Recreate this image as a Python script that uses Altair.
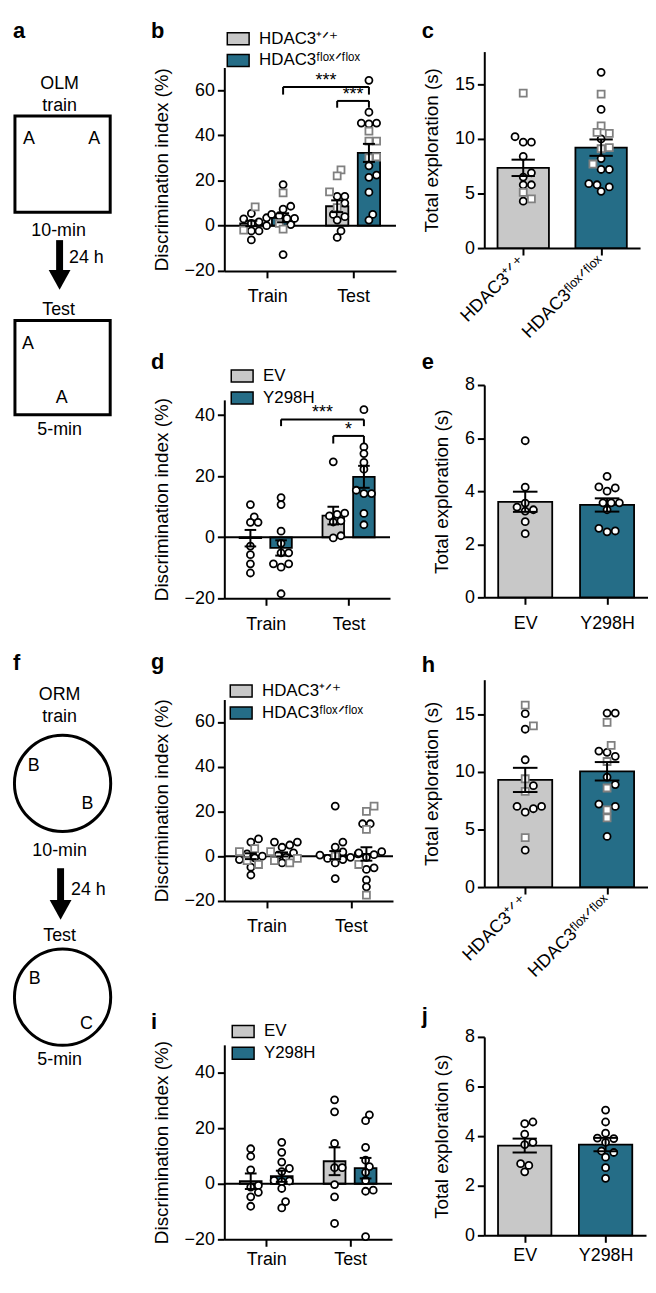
import altair as alt
import pandas as pd

FONT = "Liberation Sans"
GRAY = "#c8c8c8"
TEAL = "#256d87"
SQGRAY = "#808080"

HDAC = ["HDAC3⁺ᐟ⁺", "HDAC3ᶠˡᵒˣᐟᶠˡᵒˣ"]
MUT = ["EV", "Y298H"]

# ---------- panel b (OLM, HDAC3) : groups Train+/+, Train f/f, Test+/+, Test f/f
b_means = [1.0, 3.5, 8.6, 32.2]
b_sems = [1.2, 2.0, 2.6, 4.0]
b_circles = [
    [5.4, 3.5, 3.0, 1.7, 1.0, 0.0, -2.3, -2.3, -6.3],
    [18.2, 8.6, 7.3, 5.0, 4.4, 3.2, 3.2, 0.5, -12.8],
    [13.0, 13.0, 10.0, 5.0, 4.0, 2.5, -2.3, -5.2],
    [64.3, 50.2, 45.4, 45.4, 45.0, 26.5, 22.4, 21.4, 14.8, 5.0, 2.5],
]
b_squares = [
    [8.3, -2.0],
    [14.5, 1.0, -1.5],
    [24.7, 22.0, 15.0, 8.0],
    [41.8, 37.4, 37.4, 30.4, 30.0],
]
b_brackets = [(1, 3, 61.4, 3.4, "***"), (2, 3, 55.2, 3.0, "***")]

# ---------- panel c (OLM total exploration, HDAC3)
c_means = [7.35, 9.2]
c_sems = [0.75, 0.75]
c_circles = [
    [10.2, 9.7, 9.7, 8.4, 6.9, 6.5, 5.8, 5.8, 4.3],
    [16.1, 12.7, 10.0, 8.2, 7.2, 7.2, 5.8, 5.2, 5.6, 5.9],
]
c_squares = [
    [14.2, 5.1, 4.5],
    [14.1, 11.2, 10.5, 10.6, 9.2, 9.1, 7.7],
]

# ---------- panel d (OLM, EV / Y298H)
d_means = [-0.3, -3.5, 7.1, 19.8]
d_sems = [2.7, 2.5, 2.9, 3.6]
d_circles = [
    [10.7, 6.7, 4.9, 4.9, -2.9, -5.7, -8.7, -11.7],
    [13.0, 10.7, 2.0, -2.0, -5.1, -5.1, -8.7, -9.8, -8.7, -18.5],
    [24.7, 7.5, 7.0, 7.9, 5.0, 5.4, 0.5, -0.2],
    [41.8, 29.6, 27.4, 24.5, 22.3, 15.4, 14.3, 14.3, 7.8, 4.1],
]
d_squares = [[], [], [], []]
d_brackets = [(1, 3, 38.6, 2.2, "***"), (2, 3, 33.2, 2.5, "*")]

# ---------- panel e
e_means = [3.6, 3.48]
e_sems = [0.38, 0.25]
e_circles = [
    [5.9, 4.15, 3.55, 3.4, 3.3, 3.25, 2.85, 2.4],
    [4.56, 4.16, 4.0, 4.12, 3.56, 3.56, 3.56, 3.3, 2.6, 2.47, 2.5],
]
e_squares = [[], []]

# ---------- panel g (ORM, HDAC3)
g_means = [0.0, 0.8, 0.5, 1.0]
g_sems = [1.3, 0.9, 1.8, 3.0]
g_circles = [
    [7.7, 6.3, 1.0, 0.0, -0.7, -1.5, -4.9, -8.4],
    [6.3, 6.3, 5.0, 4.0, 1.5, 0.5, -0.5, -3.0],
    [22.4, 6.3, 4.1, 1.9, 1.0, 0.5, -0.5, -1.0, -1.5, -3.0, -10.0],
    [14.5, 14.5, 2.0, 1.5, 0.7, -0.5, -5.2, -5.9, -10.6, -13.7],
]
g_squares = [
    [3.4, 2.0, -2.0, -3.7],
    [2.0, -1.0, -2.0, -3.0],
    [0.0],
    [22.4, 20.0, 12.0, -3.7, -17.4],
]

# ---------- panel h
h_means = [9.3, 10.05]
h_sems = [1.05, 0.8]
h_circles = [
    [15.05, 13.7, 11.05, 8.8, 7.0, 6.8, 6.5, 7.0, 3.2],
    [15.1, 15.1, 11.7, 11.8, 11.35, 9.55, 8.9, 7.2, 7.0, 4.4],
]
h_squares = [
    [15.8, 14.0, 9.4, 8.3, 4.3],
    [14.3, 12.3, 10.9, 8.6, 6.7, 6.0],
]

# ---------- panel i (ORM, EV / Y298H)
i_means = [0.9, 2.7, 8.1, 5.6]
i_sems = [2.8, 2.0, 5.0, 3.7]
i_circles = [
    [12.6, 9.9, 5.0, -0.6, -1.2, -3.1, -4.7, -8.1],
    [14.9, 11.3, 7.8, 5.5, 4.4, 1.2, 1.0, 0.8, -1.7, -6.4, -8.7],
    [30.2, 25.9, 14.5, 5.8, 5.8, -0.3, -4.7, -14.3],
    [24.8, 22.7, 13.1, 8.5, 6.2, 4.1, 1.2, -2.3, -2.7, -19.0],
]
i_squares = [[], [], [], []]

# ---------- panel j
j_means = [3.62, 3.66]
j_sems = [0.28, 0.27]
j_circles = [
    [4.57, 4.5, 4.08, 3.75, 3.66, 2.89, 2.56, 2.82],
    [5.05, 4.57, 4.12, 3.92, 3.9, 3.75, 3.4, 3.34, 3.15, 2.73, 2.3],
]
j_squares = [[], []]

# ---------- schematic (a, f) text labels and shapes, in page pixels
sch_text = ["OLM", "train", "A", "A", "10-min", "24 h", "Test", "A", "A", "5-min",
            "ORM", "train", "B", "B", "10-min", "24 h", "Test", "B", "C", "5-min"]
sch_tx = [55, 55, 24, 90, 54, 82, 54, 23, 57, 55,
          55, 55, 29, 83, 55, 84, 55, 30, 82, 55]
sch_ty = [85, 107, 140, 140, 233, 260, 312, 347, 401, 433,
          700, 723, 772, 810, 858, 897, 943, 987, 1032, 1068]
sch_letters = ["a", "f"]
sch_lx = [8, 8]
sch_ly = [33, 670]
sch_boxes = [(10, 112, 106, 209), (10, 318, 106, 413)]
sch_circles = [(58, 784.5), (58, 1000)]
sch_shafts = [(55, 237, 270), (56, 870, 905)]
sch_heads = [(55, 277), (56, 912)]

ZERO = pd.DataFrame({"z": [0.0]})


def swarm(values, ppx, ppy, diam):
    order = sorted(range(len(values)), key=lambda k: values[k])
    placed = []
    offs = [0.0] * len(values)
    step = diam * 0.55
    cands = [0.0]
    for k in range(1, 14):
        cands += [k * step, -k * step]
    for idx in order:
        yp = values[idx] * ppy
        chosen = cands[-1]
        for c in cands:
            if all((c - px) ** 2 + (yp - py) ** 2 >= (diam * 0.95) ** 2 for px, py in placed):
                chosen = c
                break
        placed.append((chosen, yp))
        offs[idx] = chosen / ppx
    return offs


def points_df(centers, circles, squares, ppx, ppy, diam):
    rows = []
    for xc, circ, sq in zip(centers, circles, squares):
        vals = list(circ) + list(sq)
        kinds = ["c"] * len(circ) + ["s"] * len(sq)
        offs = swarm(vals, ppx, ppy, diam)
        for o, v, k in zip(offs, vals, kinds):
            rows.append({"x": xc + o, "v": v, "k": k})
    return pd.DataFrame(rows)


def letter_layer(letter, dx, dy):
    return alt.Chart(ZERO).mark_text(
        text=letter, font=FONT, fontSize=22, fontWeight="bold",
        align="left", baseline="alphabetic", color="black"
    ).encode(x=alt.value(dx), y=alt.value(dy))


def common_layers(xs, ys, xax, yax, centers, genos, labels, means, sems,
                  circles, squares, width, height, ydom, hb, cap, legend, diam):
    bars = pd.DataFrame({
        "g": genos,
        "x1": [c - hb for c in centers],
        "x2": [c + hb for c in centers],
        "m": means,
        "z": [0.0] * len(centers),
    })
    err = pd.DataFrame({
        "xc": centers,
        "lo": [m - s for m, s in zip(means, sems)],
        "hi": [m + s for m, s in zip(means, sems)],
        "c1": [c - cap for c in centers],
        "c2": [c + cap for c in centers],
    })
    ppx = width / 2.0
    ppy = height / float(ydom[1] - ydom[0])
    pts = points_df(centers, circles, squares, ppx, ppy, diam)

    bar_layer = alt.Chart(bars).mark_rect(stroke="black", strokeWidth=1.8).encode(
        x=alt.X("x1:Q", scale=xs, axis=xax),
        x2="x2:Q",
        y=alt.Y("m:Q", scale=ys, axis=yax),
        y2="z:Q",
        fill=alt.Fill("g:N", scale=alt.Scale(domain=labels, range=[GRAY, TEAL]),
                      legend=legend),
    )
    pt_layer = alt.Chart(pts).mark_point(
        filled=True, fill="white", size=50, strokeWidth=1.8, opacity=1
    ).encode(
        x=alt.X("x:Q", scale=xs, axis=xax),
        y=alt.Y("v:Q", scale=ys, axis=yax),
        shape=alt.Shape("k:N", scale=alt.Scale(domain=["c", "s"], range=["circle", "square"]), legend=None),
        stroke=alt.Stroke("k:N", scale=alt.Scale(domain=["c", "s"], range=["black", SQGRAY]), legend=None),
    )
    err_v = alt.Chart(err).mark_rule(color="black", strokeWidth=2).encode(
        x=alt.X("xc:Q", scale=xs, axis=xax),
        y=alt.Y("lo:Q", scale=ys, axis=yax),
        y2="hi:Q",
    )
    err_hi = alt.Chart(err).mark_rule(color="black", strokeWidth=2).encode(
        x=alt.X("c1:Q", scale=xs, axis=xax), x2="c2:Q",
        y=alt.Y("hi:Q", scale=ys, axis=yax),
    )
    err_lo = alt.Chart(err).mark_rule(color="black", strokeWidth=2).encode(
        x=alt.X("c1:Q", scale=xs, axis=xax), x2="c2:Q",
        y=alt.Y("lo:Q", scale=ys, axis=yax),
    )
    return [bar_layer, pt_layer, err_v, err_hi, err_lo]


def disc_panel(letter, ldy, labels, means, sems, circles, squares, brackets,
               ydom, yticks, width, height, legx, legy, lpad):
    off, hb, cap = 0.185, 0.13, 0.07
    centers = [1 - off, 1 + off, 2 - off, 2 + off]
    genos = [labels[0], labels[1], labels[0], labels[1]]
    xs = alt.Scale(domain=[0.5, 2.5], nice=False, zero=False)
    ys = alt.Scale(domain=ydom, nice=False, zero=False)
    xax = alt.Axis(values=[1, 2], labelExpr="datum.value == 1 ? 'Train' : 'Test'",
                   title=None, grid=False, labelPadding=lpad)
    yax = alt.Axis(values=yticks, title="Discrimination index (%)", grid=False,
                   titlePadding=13, labelPadding=3)
    legend = alt.Legend(
        orient="none", legendX=legx, legendY=legy, title=None, direction="vertical",
        symbolType="M-1,-0.55L1,-0.55L1,0.55L-1,0.55Z", symbolSize=484,
        symbolStrokeColor="black", symbolStrokeWidth=1.5, symbolOpacity=1,
        labelFont=FONT, labelFontSize=17, labelColor="black", labelOffset=9,
        rowPadding=0, padding=0, labelLimit=300,
    )
    layers = common_layers(xs, ys, xax, yax, centers, genos, labels, means, sems,
                           circles, squares, width, height, ydom, hb, cap, legend, 7.0)
    zero_rule = alt.Chart(ZERO).mark_rule(color="black", strokeWidth=2).encode(
        y=alt.Y("z:Q", scale=ys, axis=yax))
    seg_rows, txt_rows = [], []
    for ga, gb, yl, drop, lab in brackets:
        xa, xb = centers[ga], centers[gb]
        seg_rows += [
            {"xa": xa, "xb": xb, "ya": yl, "yb": yl},
            {"xa": xa, "xb": xa, "ya": yl, "yb": yl - drop},
            {"xa": xb, "xb": xb, "ya": yl, "yb": yl - drop},
        ]
        txt_rows.append({"xm": (xa + xb) / 2.0, "y": yl, "s": lab})
    extra = []
    if seg_rows:
        extra.append(alt.Chart(pd.DataFrame(seg_rows)).mark_rule(color="black", strokeWidth=2).encode(
            x=alt.X("xa:Q", scale=xs, axis=xax), x2="xb:Q",
            y=alt.Y("ya:Q", scale=ys, axis=yax), y2="yb:Q"))
        extra.append(alt.Chart(pd.DataFrame(txt_rows)).mark_text(
            font=FONT, fontSize=18, baseline="alphabetic", dy=-1, color="black").encode(
            x=alt.X("xm:Q", scale=xs, axis=xax),
            y=alt.Y("y:Q", scale=ys, axis=yax), text="s:N"))
    lays = [layers[0], zero_rule, layers[1], layers[2], layers[3], layers[4]] + extra
    lays.append(letter_layer(letter, -74, ldy))
    return alt.layer(*lays).properties(width=width, height=height)


def expl_panel(letter, ldy, labels, means, sems, circles, squares, ydom, yticks,
               width, height, rotate, lpad):
    hb, cap = 0.33, 0.15
    centers = [1.0, 2.0]
    xs = alt.Scale(domain=[0.5, 2.5], nice=False, zero=False)
    ys = alt.Scale(domain=ydom, nice=False, zero=False)
    expr = "datum.value == 1 ? '%s' : '%s'" % (labels[0], labels[1])
    if rotate:
        xax = alt.Axis(values=[1, 2], labelExpr=expr, title=None, grid=False,
                       labelAngle=-45, labelAlign="right", labelBaseline="middle",
                       labelPadding=4, labelLimit=300)
    else:
        xax = alt.Axis(values=[1, 2], labelExpr=expr, title=None, grid=False, labelPadding=lpad)
    yax = alt.Axis(values=yticks, title="Total exploration (s)", grid=False,
                   titlePadding=13, labelPadding=3)
    layers = common_layers(xs, ys, xax, yax, centers, labels, labels, means, sems,
                           circles, squares, width, height, ydom, hb, cap, None, 7.5)
    layers.append(letter_layer(letter, -63, ldy))
    return alt.layer(*layers).properties(width=width, height=height)


def spacer(h, w):
    return alt.Chart(ZERO).mark_point(size=1, opacity=0).encode(
        x=alt.value(1), y=alt.value(1)).properties(width=w, height=h)


# ---------- schematic column
SW, SH = 114, 1080
sxs = alt.Scale(domain=[8, 8 + SW], nice=False, zero=False)
sys_ = alt.Scale(domain=[8, 8 + SH], nice=False, zero=False, reverse=True)
txt_df = pd.DataFrame({"t": sch_text, "x": sch_tx, "y": sch_ty})
let_df = pd.DataFrame({"t": sch_letters, "x": sch_lx, "y": sch_ly})
box_df = pd.DataFrame(sch_boxes, columns=["x1", "y1", "x2", "y2"])
circ_df = pd.DataFrame(sch_circles, columns=["x", "y"])
shaft_df = pd.DataFrame(sch_shafts, columns=["x", "y1", "y2"])
head_df = pd.DataFrame(sch_heads, columns=["x", "y"])

schem = alt.layer(
    alt.Chart(box_df).mark_rect(filled=False, color="black", strokeWidth=3).encode(
        x=alt.X("x1:Q", scale=sxs, axis=None), x2="x2:Q",
        y=alt.Y("y1:Q", scale=sys_, axis=None), y2="y2:Q"),
    alt.Chart(circ_df).mark_point(shape="circle", filled=False, color="black",
                                  strokeWidth=3, size=9409, opacity=1).encode(
        x=alt.X("x:Q", scale=sxs, axis=None), y=alt.Y("y:Q", scale=sys_, axis=None)),
    alt.Chart(shaft_df).mark_rule(color="black", strokeWidth=7).encode(
        x=alt.X("x:Q", scale=sxs, axis=None),
        y=alt.Y("y1:Q", scale=sys_, axis=None), y2="y2:Q"),
    alt.Chart(head_df).mark_point(shape="M-1,-0.9L1,-0.9L0,0.9Z", filled=True,
                                  color="black", size=484, opacity=1).encode(
        x=alt.X("x:Q", scale=sxs, axis=None), y=alt.Y("y:Q", scale=sys_, axis=None)),
    alt.Chart(txt_df).mark_text(font=FONT, fontSize=18, baseline="alphabetic",
                                align="center", color="black").encode(
        x=alt.X("x:Q", scale=sxs, axis=None), y=alt.Y("y:Q", scale=sys_, axis=None),
        text="t:N"),
    alt.Chart(let_df).mark_text(font=FONT, fontSize=22, fontWeight="bold",
                                baseline="alphabetic", align="left", color="black").encode(
        x=alt.X("x:Q", scale=sxs, axis=None), y=alt.Y("y:Q", scale=sys_, axis=None),
        text="t:N"),
).properties(width=SW, height=SH)

# ---------- panels
MW, RW = 173, 165
pb = disc_panel("b", -30, HDAC, b_means, b_sems, b_circles, b_squares, b_brackets,
                [-20, 70], [-20, 0, 20, 40, 60], 173, 205, 2, -41, 10)
pd_ = disc_panel("d", -31, MUT, d_means, d_sems, d_circles, d_squares, d_brackets,
                 [-20, 45], [-20, 0, 20, 40], 167, 200, 6, -36, 10)
pg = disc_panel("g", -31, HDAC, g_means, g_sems, g_circles, g_squares, [],
                [-20, 70], [-20, 0, 20, 40, 60], 170, 203, 5, -20.5, 10)
pi = disc_panel("i", -16, MUT, i_means, i_sems, i_circles, i_squares, [],
                [-20, 50], [-20, 0, 20, 40], 169, 196, 7, -25.5, 4)

pc = expl_panel("c", -14, HDAC, c_means, c_sems, c_circles, c_squares,
                [0, 18], [0, 5, 10, 15], 157, 198, True, 10)
pe = expl_panel("e", -16, MUT, e_means, e_sems, e_circles, e_squares,
                [0, 8], [0, 2, 4, 6, 8], 165, 214, False, 10)
ph = expl_panel("h", -8, HDAC, h_means, h_sems, h_circles, h_squares,
                [0, 18], [0, 5, 10, 15], 165, 209, True, 10)
pj = expl_panel("j", -14, MUT, j_means, j_sems, j_circles, j_squares,
                [0, 8], [0, 2, 4, 6, 8], 163, 200, False, 4)

RES = dict(fill="independent", stroke="independent", shape="independent")

mid = alt.vconcat(spacer(55, MW), pb, spacer(130, MW), pd_, spacer(102, MW), pg,
                  spacer(145, MW), pi,
                  spacing=0, bounds="flush").resolve_scale(**RES).resolve_legend(fill="independent")
right = alt.vconcat(spacer(39, RW), pc, spacer(138, RW), pe, spacer(83, RW), ph,
                    spacer(151, RW), pj,
                    spacing=0, bounds="flush").resolve_scale(**RES).resolve_legend(fill="independent")

chart = alt.hconcat(schem, mid, right, spacing=25).resolve_scale(**RES).resolve_legend(
    fill="independent").properties(
    padding={"left": 0, "top": 0, "right": 0, "bottom": 0}, background="white"
).configure_view(strokeWidth=0).configure_axis(
    domainColor="black", domainWidth=2, tickColor="black", tickWidth=2, tickSize=7,
    labelColor="black", labelFont=FONT, labelFontSize=18, titleFont=FONT,
    titleFontSize=19, titleFontWeight="normal", titleColor="black", grid=False
)

chart.save("out.html", embed_options={"renderer": "svg", "actions": False})
